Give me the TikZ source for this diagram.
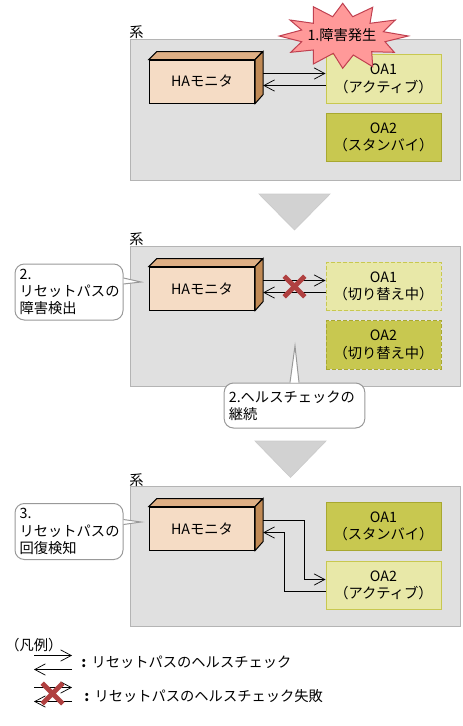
\documentclass[tikz,border=0pt]{standalone}
\usepackage{fontspec}
\setmainfont{Noto Sans CJK JP}
\usetikzlibrary{arrows.meta,shapes.misc,calc}
\definecolor{panelfill}{HTML}{E0E0E0}
\definecolor{panelline}{HTML}{B4B4B4}
\definecolor{boxfront}{HTML}{F5DCC5}
\definecolor{boxtop}{HTML}{DEAF85}
\definecolor{boxside}{HTML}{C18A55}
\definecolor{activefill}{HTML}{E8E8A8}
\definecolor{activeline}{HTML}{C8C850}
\definecolor{standbyfill}{HTML}{C8C850}
\definecolor{standbyline}{HTML}{A8A830}
\definecolor{burstfill}{HTML}{FF9999}
\definecolor{burstline}{HTML}{C04050}
\definecolor{crossline}{HTML}{B04040}
\definecolor{bigarrow}{HTML}{D2D2D2}
\definecolor{calloutline}{HTML}{999999}
\newcommand{\hamonitor}[3]{\node[front] (#1) at (#2,#3) {HAモニタ};
        \filldraw[topface] (#1.north west) -- ++(8,-8) -- ++(105.5,0) -- (#1.north east) -- cycle;
        \filldraw[sideface] (#1.north east) -- ++(8,-8) -- ++(0,43) -- (#1.south east) -- cycle;
        \coordinate (#1 out) at ([xshift=6pt,yshift=6pt]#1.east);
        \coordinate (#1 in) at ([xshift=6pt,yshift=-3pt]#1.east);
    }
\newcommand{\checkpair}[2]{\draw[check,->] (#1 out) -- (#1 out -| #2.west);
        \draw[check,->] (#1 in -| #2.west) -- (#1 in);
    }
\newcommand{\calltip}[3]{\filldraw[tipline] (#1) -- (#3) -- (#2);}
\begin{document}
\begin{tikzpicture}
                [x=0.75pt,y=-0.75pt,
                every node/.style={font=\fontsize{10.7}{13}\selectfont,inner sep=0pt},
                panel/.style={rectangle,draw=panelline,fill=panelfill,line width=0.75pt,anchor=north west,minimum width=247.5pt},
                front/.style={rectangle,draw=black,fill=boxfront,line width=0.75pt,minimum width=79pt,minimum height=32.25pt},
                topface/.style={draw=black,fill=boxtop,line width=0.75pt},
                sideface/.style={draw=black,fill=boxside,line width=0.75pt},
                oabox/.style={rectangle,line width=0.75pt,align=center,minimum width=86.25pt,minimum height=36.5pt},
                active/.style={oabox,draw=activeline,fill=activefill},
                standby/.style={oabox,draw=standbyline,fill=standbyfill},
                switching/.style={dashed,dash pattern=on 3pt off 1.5pt},
                check/.style={line width=0.75pt,>={Straight Barb[length=8pt,width=8.5pt,line width=0.55pt]}},
                failmark/.style={cross out,draw=crossline,line width=3.5pt,minimum width=12pt,minimum height=12pt},
                callbox/.style={rectangle,draw=calloutline,fill=white,line width=0.75pt,rounded corners=7pt,align=left,inner xsep=3.5pt},
                tipline/.style={draw=calloutline,fill=white,line width=0.75pt},
                bigtri/.style={draw=panelline!70!white,fill=bigarrow,line width=0.5pt},
                ]
                \useasboundingbox (0,0) rectangle (462,726);
                % first state
                \node[panel,minimum height=105.75pt] (sys1) at (130,38.5) {};
                \node[anchor=south west] (sys1label) at (129,39) {系};
                \hamonitor{hm1}{202}{81.5}
                \node[active] (oa11) at (383.5,79) {OA1\\（アクティブ）};
                \node[standby] (oa12) at (383.5,137.5) {OA2\\（スタンバイ）};
                \checkpair{hm1}{oa11}
                \filldraw[draw=burstline,fill=burstfill,line width=0.75pt]
                    (342.7,3.3) -- (352.7,16.7) -- (372.7,7.3) -- (370,23.3) -- (395.3,20) -- (383.3,31.7)
                    -- (408.3,36) -- (385,41.7) -- (394.3,52.3) -- (371.7,51.7) -- (372.7,66.7) -- (353.3,55)
                    -- (342.7,68.3) -- (333.3,53.3) -- (313.3,64) -- (313.3,50) -- (290.7,52.3) -- (301.7,41.7)
                    -- (279.3,36) -- (301.7,30) -- (290,20) -- (313.3,23.3) -- (313.3,6.7) -- (332.7,16.7) -- cycle;
                \node (burst) at (342,35) {1.障害発生};
                \filldraw[bigtri] (259,194) -- (330,194) -- (294.5,230) -- cycle;
                % second state
                \node[panel,minimum height=105pt] (sys2) at (130,245.5) {};
                \node[anchor=south west] (sys2label) at (129,246) {系};
                \hamonitor{hm2}{202}{288.5}
                \node[active,switching] (oa21) at (383.5,286.5) {OA1\\（切り替え中）};
                \node[standby,switching] (oa22) at (383.5,345) {OA2\\（切り替え中）};
                \checkpair{hm2}{oa21}
                \node[failmark] (fail) at (294.5,286.5) {};
                \node[callbox,text width=74pt,minimum height=42pt] (cb1) at (69,292) {2.\\リセットパスの\\障害検出};
                \coordinate (cb1tip) at (141,282);
                \calltip{$(cb1.east)+(0,-14)$}{$(cb1.east)+(0,-8)$}{cb1tip}
                \node[callbox,text width=98.5pt,minimum height=33.75pt] (cb2) at (294.5,405.5) {2.ヘルスチェックの\\継続};
                \coordinate (cb2tip) at (295,346);
                \calltip{$(cb2.north)+(-4.5,0)$}{$(cb2.north)+(4.5,0)$}{cb2tip}
                \filldraw[bigtri] (255,441) -- (326,441) -- (290.5,477.5) -- cycle;
                % third state
                \node[panel,minimum height=105pt] (sys3) at (130,486) {};
                \node[anchor=south west] (sys3label) at (129,486.5) {系};
                \hamonitor{hm3}{202}{528.5}
                \node[standby] (oa31) at (383.5,526.5) {OA1\\（スタンバイ）};
                \node[active] (oa32) at (383.5,585.5) {OA2\\（アクティブ）};
                \draw[check,->] (hm3 out) -- ++(41,0) |- ([yshift=4.5pt]oa32.west);
                \draw[check,->] ([yshift=-4.5pt]oa32.west) -- ++(-41,0) |- (hm3 in);
                \node[callbox,text width=74pt,minimum height=42pt] (cb3) at (69,531.5) {3.\\リセットパスの\\回復検知};
                \coordinate (cb3tip) at (141,522);
                \calltip{$(cb3.east)+(0,-12)$}{$(cb3.east)+(0,-7)$}{cb3tip}
                % legend
                \node[anchor=west] (legend) at (5,645) {（凡例）};
                \coordinate (lg1a) at (34,655.5); \coordinate (lg1b) at (72,655.5);
                \coordinate (lg2a) at (34,669.5); \coordinate (lg2b) at (72,669.5);
                \coordinate (lg3a) at (34,687.5); \coordinate (lg3b) at (72,687.5);
                \coordinate (lg4a) at (34,701.5); \coordinate (lg4b) at (72,701.5);
                \draw[check,->] (lg1a) -- (lg1b);
                \draw[check,->] (lg2b) -- (lg2a);
                \draw[check,->] (lg3a) -- (lg3b);
                \draw[check,->] (lg4b) -- (lg4a);
                \node[failmark] (lgfail) at (52.5,693.5) {};
                \node[anchor=west] (lgtext1) at (81,662) {\textbf{:}\hspace{4pt}リセットパスのヘルスチェック};
                \node[anchor=west] (lgtext2) at (84,696.5) {\textbf{:}\hspace{4pt}リセットパスのヘルスチェック失敗};
            \end{tikzpicture}
\end{document}
